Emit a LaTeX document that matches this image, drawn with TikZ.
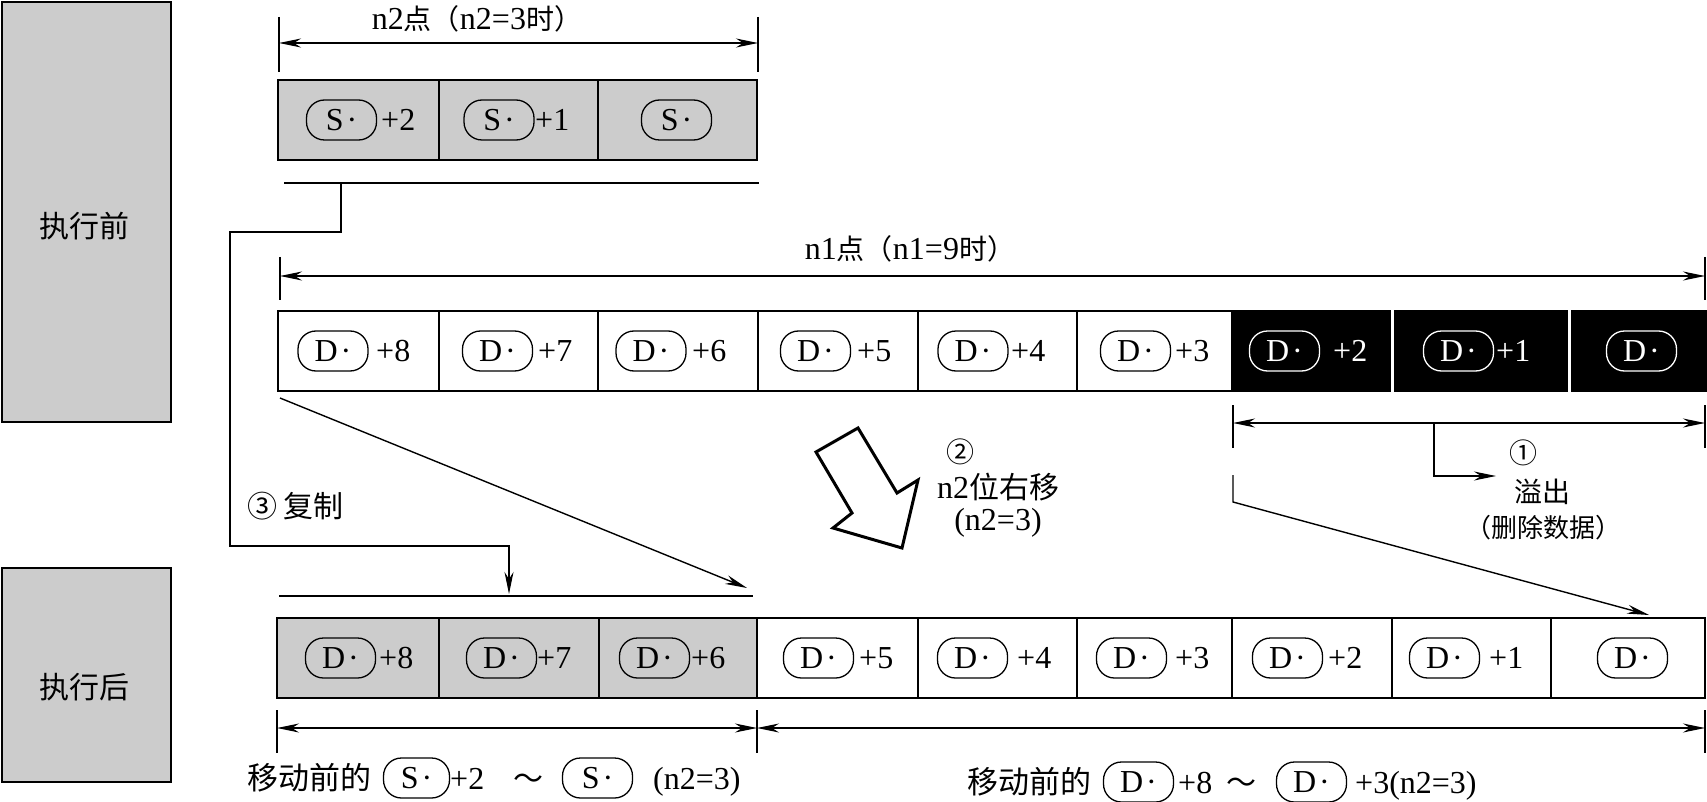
\documentclass[tikz,border=0pt]{standalone}
\usepackage{fontspec}
\setmainfont{Liberation Serif}
\newfontfamily\cjk{Noto Sans CJK SC}
\usetikzlibrary{arrows.meta}
\definecolor{boxgray}{RGB}{204,204,204}
\newcommand\zh[2][28]{{\fontsize{#1}{#1}\selectfont\cjk #2}}
\newcommand\mkcell[6]{\node[#6, minimum width={#3-#2}, minimum height={#5-#4}] (#1) at ({(#2+#3)/2},{(#4+#5)/2}) {};}
\newcommand\ovs[8]{\node[#2] (#1) at (#3,#4) {#5\kern3pt·}; \node[anchor=west, text=#8] (#1s) at (#6,#4) {#7};}
\tikzset{
  tip/.tip={Stealth[length=22pt,width=9pt,inset=7pt]},
}
\begin{document}
\begin{tikzpicture}[x=1pt,y=-1pt,
  every node/.style={inner sep=0pt, font=\fontsize{32}{36}\selectfont},
  cell/.style={draw, line width=1.8pt},
  gcell/.style={cell, fill=boxgray},
  bcell/.style={fill=black},
  side/.style={draw, fill=boxgray, line width=1.6pt},
  ovl/.style={draw, rounded corners=18pt, minimum width=70pt, minimum height=40pt, line width=1.3pt},
  wovl/.style={ovl, draw=white, text=white},
  thin/.style={line width=1.4pt},
  dimline/.style={thin, tip-tip},
  arr/.style={thin, -tip},
  blk/.style={line width=3pt, fill=white, line join=miter}
]
\useasboundingbox (0,0) rectangle (1707,802);

% side boxes
\mkcell{pre}{2}{171}{2}{422}{side}
\node (pretxt) at (84,226) {\zh[30]{执行前}};
\mkcell{post}{2}{171}{568}{782}{side}
\node (posttxt) at (84,687) {\zh[30]{执行后}};

% n2 dimension
\coordinate (n2Lt) at (279,17); \coordinate (n2Lb) at (279,72);
\coordinate (n2Rt) at (758,17); \coordinate (n2Rb) at (758,72);
\coordinate (n2L) at (279,43); \coordinate (n2R) at (758,43);
\draw[thin] (n2Lt) -- (n2Lb);
\draw[thin] (n2Rt) -- (n2Rb);
\draw[dimline] (n2L) -- (n2R);
\node (n2lab) at (477,19) {n2\zh{点（}n2=3\zh{时）}};

% S row
\mkcell{s2}{278}{439}{80}{160}{gcell}
\mkcell{s1}{439}{598}{80}{160}{gcell}
\mkcell{s0}{598}{757}{80}{160}{gcell}
\ovs{s2o}{ovl}{341.5}{120}{S}{381}{+2}{black}
\ovs{s1o}{ovl}{499}{120}{S}{535}{+1}{black}
\node[ovl] (s0o) at (676.5,120) {S\kern3pt·};

% bracket under S and copy path
\coordinate (sbL) at (284,183); \coordinate (sbR) at (759,183);
\draw[line width=1.8pt] (sbL) -- (sbR);
\coordinate (cp0) at (341,183);
\coordinate (cp1) at (341,232);
\coordinate (cp2) at (230,232);
\coordinate (cp3) at (230,546);
\coordinate (cp4) at (509,546);
\coordinate (cp5) at (509,594);
\draw[arr] (cp0) -- (cp1) -- (cp2) -- (cp3) -- (cp4) -- (cp5);
\coordinate (cbL) at (279,596); \coordinate (cbR) at (753,596);
\draw[line width=1.8pt] (cbL) -- (cbR);
\node[anchor=west] (copylab) at (247,506) {\zh[30]{③ 复制}};

% n1 dimension
\coordinate (n1Lt) at (280,257); \coordinate (n1Lb) at (280,300);
\coordinate (n1Rt) at (1705,257); \coordinate (n1Rb) at (1705,300);
\coordinate (n1L) at (280,276); \coordinate (n1R) at (1705,276);
\draw[thin] (n1Lt) -- (n1Lb);
\draw[thin] (n1Rt) -- (n1Rb);
\draw[dimline] (n1L) -- (n1R);
\node (n1lab) at (910,249) {n1\zh{点（}n1=9\zh{时）}};

% D row (before)
\mkcell{d8}{278}{439}{311}{391}{cell}
\mkcell{d7}{439}{598}{311}{391}{cell}
\mkcell{d6}{598}{758}{311}{391}{cell}
\mkcell{d5}{758}{918}{311}{391}{cell}
\mkcell{d4}{918}{1077}{311}{391}{cell}
\mkcell{d3}{1077}{1232}{311}{391}{cell}
\mkcell{d2}{1232}{1391}{310}{392}{bcell}
\mkcell{d1}{1394}{1568}{310}{392}{bcell}
\mkcell{d0}{1571}{1707}{310}{392}{bcell}
\ovs{d8o}{ovl}{333}{351}{D}{376}{+8}{black}
\ovs{d7o}{ovl}{497.5}{351}{D}{538}{+7}{black}
\ovs{d6o}{ovl}{651}{351}{D}{692}{+6}{black}
\ovs{d5o}{ovl}{815.5}{351}{D}{857}{+5}{black}
\ovs{d4o}{ovl}{973}{351}{D}{1011}{+4}{black}
\ovs{d3o}{ovl}{1135.5}{351}{D}{1175}{+3}{black}
\ovs{d2o}{wovl}{1284.5}{351}{D}{1333}{+2}{white}
\ovs{d1o}{wovl}{1458.5}{351}{D}{1496}{+1}{white}
\node[wovl] (d0o) at (1641.5,351) {D\kern3pt·};

% diagonal to copy bracket
\coordinate (dgA) at (280,398);
\coordinate (dgB) at (747,588);
\draw[arr] (dgA) -- (dgB);

% overflow dimension
\coordinate (ofLt) at (1233,405); \coordinate (ofLb) at (1233,448);
\coordinate (ofRt) at (1705,405); \coordinate (ofRb) at (1705,448);
\coordinate (ofL) at (1233,423); \coordinate (ofR) at (1705,423);
\draw[thin] (ofLt) -- (ofLb);
\draw[thin] (ofRt) -- (ofRb);
\draw[dimline] (ofL) -- (ofR);
\coordinate (ofB0) at (1434,423);
\coordinate (ofB1) at (1434,476);
\coordinate (ofB2) at (1496,476);
\draw[arr] (ofB0) -- (ofB1) -- (ofB2);
\node (c1) at (1523,453) {\zh{①}};
\node (ovf) at (1542,492) {\zh{溢出}};
\node (del) at (1543,528) {\zh[26]{（删除数据）}};

% shift diagonal
\coordinate (shA) at (1233,475);
\coordinate (shB) at (1233,502);
\coordinate (shC) at (1649,615);
\draw[arr] (shA) -- (shB) -- (shC);

% block arrow
\draw[blk] (816,452) -- (858,428) -- (897,493) -- (918,480) -- (902,548) -- (833,528) -- (852,513) -- cycle;
\node (c2) at (960,452) {\zh{②}};
\node (shlab) at (998,487) {n2\zh[30]{位右移}};
\node (shlab2) at (998,523) {(n2=3)};

% bottom row (after)
\mkcell{b8}{277}{439}{618}{698}{gcell}
\mkcell{b7}{439}{599}{618}{698}{gcell}
\mkcell{b6}{599}{757}{618}{698}{gcell}
\mkcell{b5}{757}{918}{618}{698}{cell}
\mkcell{b4}{918}{1077}{618}{698}{cell}
\mkcell{b3}{1077}{1232}{618}{698}{cell}
\mkcell{b2}{1232}{1392}{618}{698}{cell}
\mkcell{b1}{1392}{1551}{618}{698}{cell}
\mkcell{b0}{1551}{1705}{618}{698}{cell}
\ovs{b8o}{ovl}{340.5}{658}{D}{379}{+8}{black}
\ovs{b7o}{ovl}{501.5}{658}{D}{537}{+7}{black}
\ovs{b6o}{ovl}{654.5}{658}{D}{691}{+6}{black}
\ovs{b5o}{ovl}{818.5}{658}{D}{859}{+5}{black}
\ovs{b4o}{ovl}{972.5}{658}{D}{1017}{+4}{black}
\ovs{b3o}{ovl}{1131.5}{658}{D}{1175}{+3}{black}
\ovs{b2o}{ovl}{1287.5}{658}{D}{1328}{+2}{black}
\ovs{b1o}{ovl}{1444.5}{658}{D}{1489}{+1}{black}
\node[ovl] (b0o) at (1632.5,658) {D\kern3pt·};

% bottom dimensions
\coordinate (bt1t) at (277,710); \coordinate (bt1b) at (277,753);
\coordinate (bt2t) at (757,710); \coordinate (bt2b) at (757,753);
\coordinate (bt3t) at (1705,710); \coordinate (bt3b) at (1705,753);
\draw[thin] (bt1t) -- (bt1b);
\draw[thin] (bt2t) -- (bt2b);
\draw[thin] (bt3t) -- (bt3b);
\coordinate (bd1) at (277,728); \coordinate (bd2) at (757,728); \coordinate (bd3) at (1705,728);
\draw[dimline] (bd1) -- (bd2);
\draw[dimline] (bd2) -- (bd3);

% bottom labels
\node[anchor=base west] (lbA) at (247,789) {\zh[31]{移动前的}};
\node[ovl, minimum width=66pt] (lbO1) at (416.5,778) {S\kern3pt·};
\node[anchor=base west] (lbB) at (450,789) {+2};
\node[anchor=base] (lbT) at (528,789) {\zh[30]{～}};
\node[ovl] (lbO2) at (597.5,778) {S\kern3pt·};
\node[anchor=base west] (lbC) at (653,789) {(n2=3)};

\node[anchor=base west] (rbA) at (967,793) {\zh[31]{移动前的}};
\node[ovl] (rbO1) at (1138.5,782) {D\kern3pt·};
\node[anchor=base west] (rbB) at (1178,793) {+8};
\node[anchor=base] (rbT) at (1241,793) {\zh[30]{～}};
\node[ovl] (rbO2) at (1311.5,782) {D\kern3pt·};
\node[anchor=base west] (rbC) at (1355,793) {+3(n2=3)};
\end{tikzpicture}
\end{document}
